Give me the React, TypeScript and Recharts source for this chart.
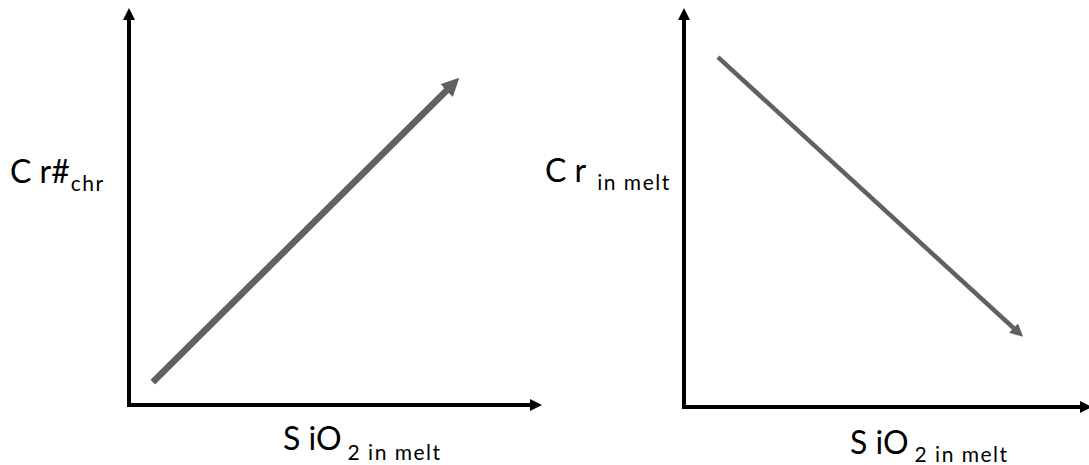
import React from 'react'
import { LineChart, Line, XAxis, YAxis } from 'recharts'

// schematic trends, both axes 0..100 (no units)
const DOMAIN: [number, number] = [0, 100]
const sio2Left = [5.9, 80]
const crChr = [5.9, 82.5]
const sio2Right = [8.5, 83.7]
const crMelt = [89.7, 19.2]

const leftData = sio2Left.map((x, i) => ({ sio2: x, value: crChr[i] }))
const rightData = sio2Right.map((x, i) => ({ sio2: x, value: crMelt[i] }))

const FONT = 'Lato, "Open Sans", sans-serif'
const TREND = '#616161'

const axisLineX = { stroke: '#000', strokeWidth: 4, strokeLinecap: 'square', markerEnd: 'url(#axisHead)' }
const axisLineY = { stroke: '#000', strokeWidth: 4, strokeLinecap: 'square', markerStart: 'url(#axisHead)' }

function SubText({ x, y, main, sub, dx = 0, dy = 8 }: { x: number; y: number; main: string; sub: string; dx?: number; dy?: number }) {
  return (
    <text x={x} y={y} fontFamily={FONT} fill="#000" fontSize={32}>
      {main}
      <tspan fontSize={21} dx={dx} dy={dy} letterSpacing={1.5}>{sub}</tspan>
    </text>
  )
}

function Markers() {
  return (
    <svg width={0} height={0} style={{ position: 'absolute' }}>
      <defs>
        <marker id="axisHead" markerUnits="userSpaceOnUse" viewBox="0 0 12 12" markerWidth={12} markerHeight={12} refX={3} refY={6} orient="auto-start-reverse">
          <path d="M0,0 L12,6 L0,12 Z" fill="#000" />
        </marker>
        <marker id="headL" markerUnits="userSpaceOnUse" viewBox="0 0 18 18" markerWidth={18} markerHeight={18} refX={8} refY={9} orient="auto">
          <path d="M0,0 L18,9 L0,18 Z" fill={TREND} />
        </marker>
        <marker id="headR" markerUnits="userSpaceOnUse" viewBox="0 0 13 13" markerWidth={13} markerHeight={13} refX={6} refY={6.5} orient="auto">
          <path d="M0,0 L13,6.5 L0,13 Z" fill={TREND} />
        </marker>
      </defs>
    </svg>
  )
}

export default function App() {
  return (
    <div style={{ position: 'absolute', left: 0, top: 0, width: 1089, height: 465, background: '#fff', overflow: 'hidden' }}>
      <Markers />
      <div style={{ position: 'absolute', left: 0, top: 0 }}>
        <LineChart width={560} height={465} data={leftData} margin={{ top: 17, right: 27, bottom: 30, left: 69 }}>
          <XAxis
            type="number" dataKey="sio2" domain={DOMAIN} tick={false} tickLine={false} height={30}
            axisLine={axisLineX}
            label={{ content: () => <SubText x={283} y={450} main="S iO" sub="2 in melt" dx={6} dy={10} /> }}
          />
          <YAxis
            type="number" domain={DOMAIN} tick={false} tickLine={false} width={60}
            axisLine={axisLineY}
            label={{ content: () => <SubText x={10} y={183} main="C r#" sub="chr" dx={1} dy={8} /> }}
          />
          <Line type="linear" dataKey="value" stroke={TREND} strokeWidth={6.5} dot={false} activeDot={false}
            isAnimationActive={false} markerEnd="url(#headL)" />
        </LineChart>
      </div>
      <div style={{ position: 'absolute', left: 530, top: 0 }}>
        <LineChart width={559} height={465} data={rightData} margin={{ top: 17, right: 6, bottom: 28, left: 94 }}>
          <XAxis
            type="number" dataKey="sio2" domain={DOMAIN} tick={false} tickLine={false} height={30}
            axisLine={axisLineX}
            label={{ content: () => <SubText x={320} y={454} main="S iO" sub="2 in melt" dx={6} dy={8} /> }}
          />
          <YAxis
            type="number" domain={DOMAIN} tick={false} tickLine={false} width={60}
            axisLine={axisLineY}
            label={{ content: () => <SubText x={15} y={182} main="C r" sub="in melt" dx={11} dy={8} /> }}
          />
          <Line type="linear" dataKey="value" stroke={TREND} strokeWidth={4.5} dot={false} activeDot={false}
            isAnimationActive={false} markerEnd="url(#headR)" />
        </LineChart>
      </div>
    </div>
  )
}
